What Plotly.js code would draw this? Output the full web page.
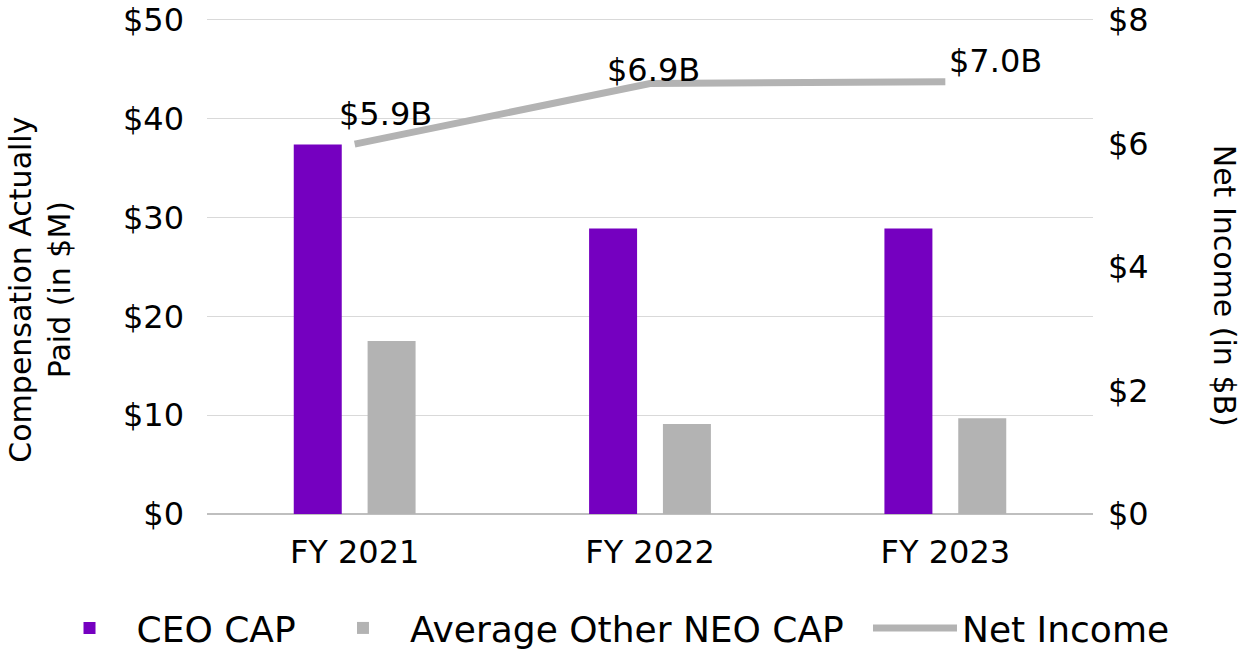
<!DOCTYPE html>
<html>
<head>
<meta charset="utf-8">
<script src="https://cdn.plot.ly/plotly-3.0.1.min.js"></script>
<style>
html,body{margin:0;padding:0;background:#fff;}
#chart{width:1243px;height:650px;}
</style>
</head>
<body>
<div id="chart"></div>
<script>
var categories = ['FY 2021', 'FY 2022', 'FY 2023'];
var ceoCap = [37.4, 28.9, 28.9];
var neoCap = [17.5, 9.1, 9.7];
var netIncome = [5.99, 6.97, 7.0];
var netIncomeLabels = ['$5.9B', '$6.9B', '$7.0B'];
var leftTicks = [0, 10, 20, 30, 40, 50];
var leftTickText = ['$0', '$10', '$20', '$30', '$40', '$50'];
var rightTicks = [0, 2, 4, 6, 8];
var rightTickText = ['$0', '$2', '$4', '$6', '$8'];

var FONT = 'DejaVu Sans';
var purple = '#7500c0';
var gray = '#b3b3b3';

var traces = [
  {type: 'bar', name: 'CEO CAP', x: categories, y: ceoCap, legend: 'legend',
   marker: {color: purple}, hoverinfo: 'none'},
  {type: 'bar', name: 'Average Other NEO CAP', x: categories, y: neoCap, legend: 'legend2',
   marker: {color: gray}, hoverinfo: 'none'},
  {type: 'scatter', mode: 'lines', name: 'Net Income', x: categories, y: netIncome,
   yaxis: 'y2', legend: 'legend3', line: {color: gray, width: 7}, hoverinfo: 'none'}
];

var labelShift = [[31, 30], [3, 14], [50, 21]];
var annotations = netIncomeLabels.map(function (t, i) {
  return {x: categories[i], y: netIncome[i], xref: 'x', yref: 'y2', text: t,
    showarrow: false, xanchor: 'center', yanchor: 'middle',
    xshift: labelShift[i][0], yshift: labelShift[i][1],
    font: {family: FONT, size: 32, color: '#000'}};
});
annotations.push({xref: 'paper', yref: 'paper', x: -0.1885, y: 0.4513,
  text: 'Compensation Actually<br>Paid (in $M)', textangle: -90, showarrow: false,
  xanchor: 'center', yanchor: 'middle', font: {family: FONT, size: 30, color: '#000'}});
annotations.push({xref: 'paper', yref: 'paper', x: 1.1479, y: 0.4593,
  text: 'Net Income (in $B)', textangle: 90, showarrow: false,
  xanchor: 'center', yanchor: 'middle', font: {family: FONT, size: 30, color: '#000'}});

function legendAt(xc) {
  return {orientation: 'h', xref: 'container', yref: 'container', x: xc, y: 0.0338,
    xanchor: 'left', yanchor: 'middle', bgcolor: 'rgba(0,0,0,0)',
    font: {family: FONT, size: 36, color: '#000'}, itemwidth: 84};
}

var layout = {
  width: 1243, height: 650,
  margin: {l: 207, r: 150, t: 17, b: 135.5, pad: 0},
  paper_bgcolor: '#fff', plot_bgcolor: '#fff',
  font: {family: FONT, size: 32, color: '#000'},
  barmode: 'group', bargap: 0.5, bargroupgap: 0.35,
  showlegend: true,
  legend: legendAt(0.0342),
  legend2: legendAt(0.2542),
  legend3: legendAt(0.6983),
  xaxis: {type: 'category', showgrid: false, showline: false, zeroline: false,
    ticks: '', ticklabelstandoff: 16, tickfont: {family: FONT, size: 32, color: '#000'}},
  yaxis: {range: [0, 50.3], tickvals: leftTicks, ticktext: leftTickText,
    showgrid: true, gridcolor: '#d9d9d9', gridwidth: 1,
    zeroline: true, zerolinecolor: '#bfbfbf', zerolinewidth: 1.5,
    showline: false, ticks: '', ticklabelstandoff: 22, ticklabeloverflow: 'allow',
    tickfont: {family: FONT, size: 32, color: '#000'}},
  yaxis2: {range: [0, 8.048], tickvals: rightTicks, ticktext: rightTickText,
    overlaying: 'y', side: 'right', showgrid: false, zeroline: false, showline: false,
    ticks: '', ticklabelstandoff: 14, ticklabeloverflow: 'allow',
    tickfont: {family: FONT, size: 32, color: '#000'}},
  annotations: annotations
};

Plotly.newPlot('chart', traces, layout, {displayModeBar: false, staticPlot: true});
</script>
</body>
</html>
